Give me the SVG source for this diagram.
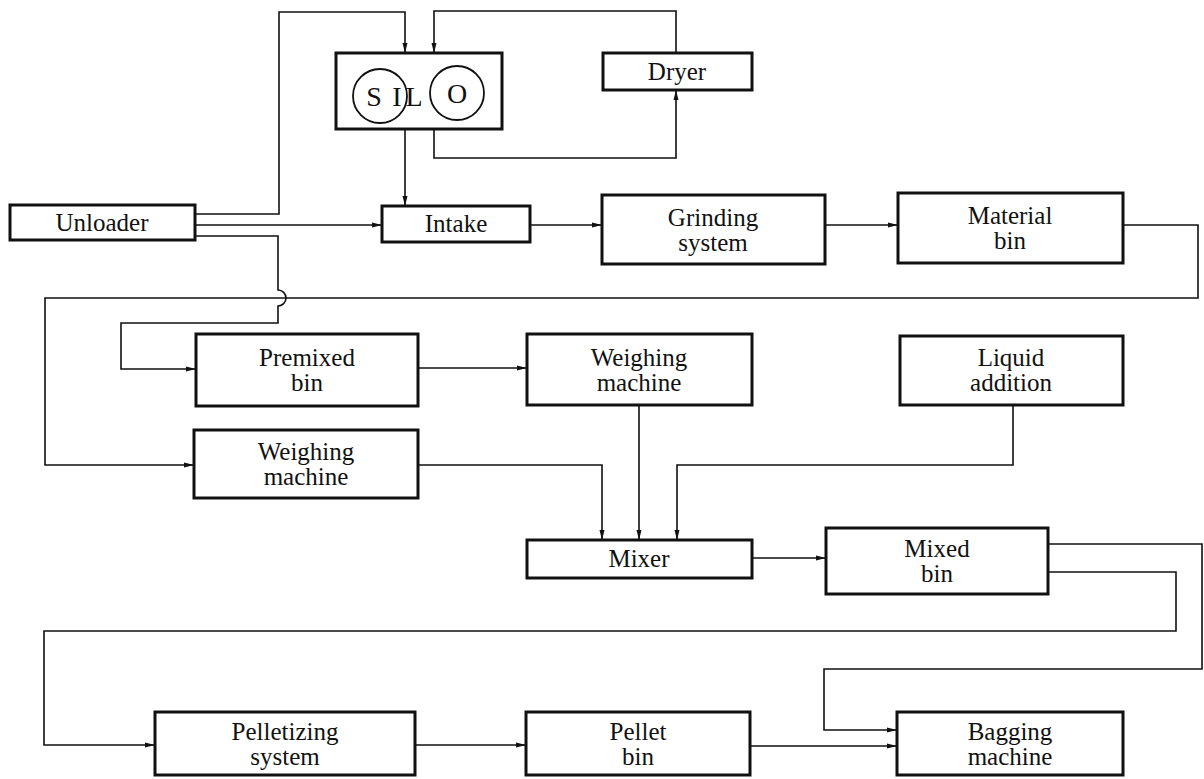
<svg xmlns="http://www.w3.org/2000/svg" width="1204" height="779" viewBox="0 0 1204 779">
<style>
.box{fill:#fff;stroke:#111;stroke-width:3}
.t{font-family:'Liberation Serif','DejaVu Serif',serif;font-size:25px;fill:#111;text-anchor:middle}
.s{font-size:28px}
.c{fill:none;stroke:#111;stroke-width:1.6}
.a{marker-end:url(#arr)}
</style>
<defs>
<marker id="arr" viewBox="0 0 10 6" refX="10" refY="3" markerWidth="10" markerHeight="6" markerUnits="userSpaceOnUse" orient="auto">
<path d="M0,0.5 L10,3 L0,5.5 Z" fill="#111"/>
</marker>
</defs>
<rect width="1204" height="779" fill="#fff"/>
<g id="connectors">
<path class="c a" d="M195,214 H279 V12 H405 V53"/>
<path class="c a" d="M195,225 H382"/>
<path class="c a" d="M195,236 H278 V290 A8,8 0 0 1 278,306 V323 H121 V369 H196"/>
<path class="c a" d="M405,129 V206"/>
<path class="c a" d="M434,129 V158 H676 V90"/>
<path class="c a" d="M676,53 V11 H434 V53"/>
<path class="c a" d="M530,225 H602"/>
<path class="c a" d="M825,225 H898"/>
<path class="c a" d="M1123,225 H1198 V298 H45 V465 H194"/>
<path class="c a" d="M418,368 H527"/>
<path class="c a" d="M639,405 V540"/>
<path class="c a" d="M418,465 H602 V540"/>
<path class="c a" d="M1013,405 V465 H677 V540"/>
<path class="c a" d="M752,558 H826"/>
<path class="c a" d="M1048,572 H1176 V631 H44 V745 H155"/>
<path class="c a" d="M1048,544 H1202 V669 H824 V730 H897"/>
<path class="c a" d="M415,745 H526"/>
<path class="c a" d="M750,746 H897"/>
</g>
<g id="unloader"><rect class="box" x="10" y="205" width="185" height="35"/><text class="t" x="102" y="231">Unloader</text></g>
<g id="silo"><rect class="box" x="336" y="53" width="166" height="76"/>
<circle cx="380" cy="96" r="27" fill="none" stroke="#111" stroke-width="1.8"/>
<circle cx="457" cy="93" r="27" fill="none" stroke="#111" stroke-width="1.8"/>
<text class="t s" x="374" y="106">S</text><text class="t s" x="397" y="106">I</text><text class="t s" x="414" y="106">L</text><text class="t s" x="457" y="103">O</text></g>
<g id="dryer"><rect class="box" x="603" y="53" width="149" height="37"/><text class="t" x="677" y="80">Dryer</text></g>
<g id="intake"><rect class="box" x="382" y="206" width="148" height="36"/><text class="t" x="456" y="232">Intake</text></g>
<g id="grinding"><rect class="box" x="602" y="195" width="223" height="69"/><text class="t" x="713" y="226">Grinding</text><text class="t" x="713" y="251">system</text></g>
<g id="material"><rect class="box" x="898" y="193" width="225" height="70"/><text class="t" x="1010" y="224">Material</text><text class="t" x="1010" y="249">bin</text></g>
<g id="premixed"><rect class="box" x="196" y="334" width="222" height="72"/><text class="t" x="307" y="366">Premixed</text><text class="t" x="307" y="391">bin</text></g>
<g id="weighing1"><rect class="box" x="527" y="334" width="225" height="71"/><text class="t" x="639" y="366">Weighing</text><text class="t" x="639" y="391">machine</text></g>
<g id="liquid"><rect class="box" x="900" y="336" width="223" height="69"/><text class="t" x="1011" y="366">Liquid</text><text class="t" x="1011" y="391">addition</text></g>
<g id="weighing2"><rect class="box" x="194" y="430" width="224" height="68"/><text class="t" x="306" y="460">Weighing</text><text class="t" x="306" y="485">machine</text></g>
<g id="mixer"><rect class="box" x="527" y="540" width="225" height="38"/><text class="t" x="639" y="567">Mixer</text></g>
<g id="mixedbin"><rect class="box" x="826" y="528" width="222" height="66"/><text class="t" x="937" y="557">Mixed</text><text class="t" x="937" y="582">bin</text></g>
<g id="pelletizing"><rect class="box" x="155" y="712" width="260" height="63"/><text class="t" x="285" y="740">Pelletizing</text><text class="t" x="285" y="765">system</text></g>
<g id="pelletbin"><rect class="box" x="526" y="712" width="224" height="63"/><text class="t" x="638" y="740">Pellet</text><text class="t" x="638" y="765">bin</text></g>
<g id="bagging"><rect class="box" x="897" y="712" width="226" height="63"/><text class="t" x="1010" y="740">Bagging</text><text class="t" x="1010" y="765">machine</text></g>
</svg>
